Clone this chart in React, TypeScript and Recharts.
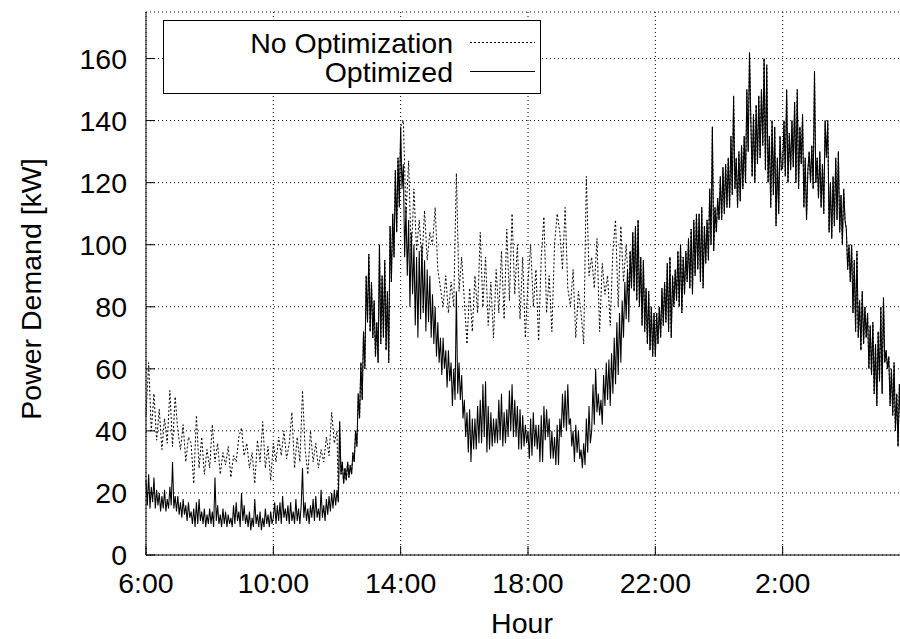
import React from 'react';
import { LineChart, Line, XAxis, YAxis, CartesianGrid, Legend } from 'recharts';

// time axis: hours after 6:00
const optStepMinutes = 2.5;   // optimized samples
const noOptStepMinutes = 5;   // no-optimization samples
const hourTicks = [0, 4, 8, 12, 16, 20];
const hourTickLabels = ['6:00', '10:00', '14:00', '18:00', '22:00', '2:00'];
const powerTicks = [0, 20, 40, 60, 80, 100, 120, 140, 160];

const seriesNames = { noopt: 'No Optimization', opt: 'Optimized' };

// Optimized power demand [kW], 6:00 -> 6:00 (next day), every 2.5 min (24 per hour)
const optimized = [
  24, 16, 26, 15, 22, 17, 25, 15, 21, 16, 20, 14, 19, 15, 21, 14, 18, 15, 22, 16, 30, 15, 19, 14,
  19, 13, 17, 12, 18, 13, 16, 11, 17, 12, 14, 10, 15, 9, 17, 10, 18, 11, 14, 10, 15, 9, 13, 10,
  15, 10, 14, 9, 25, 11, 16, 10, 13, 9, 15, 10, 14, 9, 13, 10, 12, 9, 16, 10, 17, 11, 14, 9,
  20, 11, 16, 10, 13, 9, 14, 8, 12, 9, 18, 10, 13, 9, 14, 8, 12, 9, 15, 10, 13, 9, 14, 10,
  12, 17, 10, 16, 11, 17, 10, 19, 12, 15, 11, 16, 10, 17, 11, 14, 10, 18, 11, 15, 10, 16, 28, 12,
  17, 11, 15, 10, 16, 12, 18, 11, 19, 12, 15, 11, 21, 12, 16, 11, 18, 13, 19, 14, 20, 15, 21, 16,
  21, 17, 43, 26, 30, 23, 28, 24, 30, 25, 29, 26, 33, 30, 40, 35, 52, 44, 62, 50, 72, 60, 90, 75,
  97, 72, 88, 70, 82, 64, 75, 62, 100, 68, 90, 70, 95, 66, 85, 62, 106, 88, 110, 96, 124, 104, 128, 112,
  138, 118, 126, 96, 112, 90, 108, 80, 104, 84, 100, 74, 96, 70, 98, 76, 100, 78, 95, 72, 92, 75, 90, 70,
  84, 68, 80, 64, 75, 62, 70, 58, 70, 60, 66, 54, 66, 56, 62, 48, 60, 50, 85, 52, 62, 50, 58, 44,
  50, 38, 46, 33, 47, 30, 44, 34, 44, 34, 48, 36, 50, 36, 55, 38, 56, 33, 48, 34, 46, 35, 44, 36,
  44, 36, 50, 37, 52, 35, 46, 36, 47, 38, 53, 40, 55, 38, 50, 38, 48, 34, 47, 34, 45, 35, 42, 36,
  40, 31, 44, 32, 46, 35, 42, 34, 42, 30, 45, 30, 48, 37, 47, 38, 44, 31, 40, 31, 38, 29, 42, 29,
  44, 38, 52, 41, 53, 40, 55, 42, 44, 35, 40, 30, 42, 33, 40, 31, 34, 28, 36, 29, 44, 33, 48, 36,
  40, 55, 42, 60, 46, 52, 45, 50, 42, 58, 48, 62, 50, 63, 48, 65, 52, 70, 55, 75, 58, 78, 62, 82,
  70, 88, 76, 92, 75, 98, 86, 104, 85, 106, 82, 108, 80, 96, 74, 95, 72, 86, 68, 85, 66, 80, 64, 78,
  64, 78, 68, 80, 70, 86, 74, 88, 75, 94, 72, 96, 70, 90, 80, 92, 82, 98, 80, 100, 78, 96, 84, 98,
  88, 102, 86, 105, 84, 108, 90, 110, 92, 110, 88, 112, 86, 106, 94, 108, 95, 118, 100, 138, 98, 112, 104, 115,
  108, 122, 108, 125, 110, 126, 112, 128, 112, 135, 116, 148, 118, 128, 112, 130, 114, 132, 118, 135, 120, 150, 130, 162,
  140, 122, 142, 120, 145, 126, 148, 128, 150, 132, 160, 124, 158, 120, 135, 112, 140, 116, 138, 106, 128, 110, 135, 124,
  125, 140, 122, 150, 120, 136, 124, 140, 125, 146, 120, 150, 118, 138, 126, 142, 112, 128, 108, 124, 130, 120, 132, 118,
  156, 120, 128, 115, 130, 112, 126, 110, 140, 128, 140, 104, 120, 102, 122, 106, 128, 108, 130, 104, 116, 100, 118, 108,
  105, 92, 100, 88, 100, 78, 95, 72, 98, 70, 82, 66, 85, 68, 80, 70, 78, 60, 74, 58, 75, 52, 68, 48,
  72, 56, 80, 52, 83, 62, 66, 60, 64, 48, 60, 45, 62, 40, 52, 35, 55, 42, 50, 40, 50, 44, 45, 43,
  42,
];

// No Optimization, 6:00 -> 12:00, every 5 min (differs from optimized)
const noOptMorning = [
  45, 62, 40, 52, 37, 47, 34, 44, 36, 53, 35, 51,
  40, 34, 42, 30, 38, 36, 23, 45, 28, 38, 26, 34,
  28, 42, 30, 36, 26, 33, 29, 35, 25, 32, 30, 38,
  41, 32, 36, 28, 33, 23, 37, 30, 43, 28, 35, 24,
  36, 30, 38, 32, 40, 31, 36, 46, 28, 38, 30, 53,
  34, 26, 40, 30, 36, 28, 34, 30, 38, 32, 46, 36,
  40,
];

// No Optimization, 14:00 -> 21:10, every 5 min (differs from optimized)
const noOptAfternoonStartHour = 8; // 14:00
const noOptAfternoon = [
  138, 140, 110, 127, 96, 118, 98, 108, 94, 111, 95, 104,
  100, 112, 92, 86, 80, 90, 78, 88, 80, 123, 85, 96,
  82, 68, 86, 72, 90, 78, 104, 80, 96, 74, 88, 70,
  92, 78, 98, 76, 105, 82, 110, 84, 100, 76, 96, 70,
  88, 100, 80, 92, 69, 96, 109, 78, 90, 72, 100, 110,
  104, 92, 112, 86, 80, 92, 70, 85, 78, 68, 122, 90,
  96, 86, 102, 72, 94, 84, 90, 74, 98, 108, 80, 106,
  88, 100, 85,
];

const optPerHour = 60 / optStepMinutes;
const ratio = noOptStepMinutes / optStepMinutes;
const morningEnd = (noOptMorning.length - 1) * ratio; // last row index inside morning window
const aftStart = noOptAfternoonStartHour * optPerHour;
const aftEnd = aftStart + (noOptAfternoon.length - 1) * ratio;

const data = optimized.map((v, i) => {
  let n: number | null = v; // outside the listed windows both runs coincide
  if (i <= morningEnd) {
    n = i % ratio === 0 ? noOptMorning[i / ratio] : null;
  } else if (i >= aftStart && i <= aftEnd) {
    const k = i - aftStart;
    n = k % ratio === 0 ? noOptAfternoon[k / ratio] : null;
  }
  return { t: i / optPerHour, opt: v, noopt: n };
});

const FONT = '"Liberation Sans", Arial, Helvetica, sans-serif';
const FS = 28.5;

const lineStyles: Record<string, { dash?: string; width: number }> = {
  noopt: { dash: '2 2', width: 1 },
  opt: { width: 1 },
};

const LegendBox = (props: any) => {
  const payload = props.payload || [];
  return (
    <svg width={378} height={74} style={{ display: 'block', overflow: 'visible' }}>
      <rect x={0.5} y={0.5} width={377} height={73} fill="#fff" stroke="#000" strokeWidth={1} />
      {payload.map((entry: any, idx: number) => {
        const st = lineStyles[entry.dataKey] || { width: 1 };
        const base = 32.5 + idx * 29;
        const ly = 22.5 + idx * 29;
        return (
          <g key={String(entry.dataKey)}>
            <text x={290} y={base} textAnchor="end" fontFamily={FONT} fontSize={FS} fill="#000">
              {entry.value}
            </text>
            <line x1={307} x2={372} y1={ly} y2={ly} stroke="#000" strokeWidth={st.width} strokeDasharray={st.dash} />
          </g>
        );
      })}
    </svg>
  );
};

const HourLabel = () => (
  <text x={522} y={633} textAnchor="middle" fontFamily={FONT} fontSize={FS} fill="#000">Hour</text>
);

const PowerLabel = () => (
  <text x={0} y={0} transform="translate(41,289) rotate(-90)" textAnchor="middle" fontFamily={FONT} fontSize={FS} fill="#000">
    Power Demand [kW]
  </text>
);

export default function App() {
  return (
    <div style={{ position: 'absolute', left: 0, top: 0, width: 900, height: 639, overflow: 'hidden', background: '#fff' }}>
      <LineChart
        width={930}
        height={639}
        data={data}
        margin={{ top: 12, right: 20, left: 0, bottom: 0 }}
        style={{ fontFamily: FONT }}
      >
        <CartesianGrid stroke="#000" strokeWidth={1} strokeDasharray="1 3" />
        <XAxis
          dataKey="t"
          type="number"
          domain={[0, 24]}
          ticks={hourTicks}
          interval={0}
          tickFormatter={(v: number) => hourTickLabels[hourTicks.indexOf(v)] ?? ''}
          height={84}
          tickSize={-9}
          tickMargin={27}
          axisLine={{ stroke: '#000', strokeWidth: 1 }}
          tickLine={{ stroke: '#000', strokeWidth: 1 }}
          tick={{ fontSize: FS, fill: '#000', fontFamily: FONT }}
          label={<HourLabel />}
        />
        <XAxis
          xAxisId="top"
          orientation="top"
          type="number"
          domain={[0, 24]}
          ticks={hourTicks}
          interval={0}
          height={0}
          tickSize={-9}
          tick={false}
          axisLine={{ stroke: '#000', strokeWidth: 1 }}
          tickLine={{ stroke: '#000', strokeWidth: 1 }}
        />
        <YAxis
          type="number"
          domain={[0, 175]}
          ticks={powerTicks}
          interval={0}
          width={146}
          tickSize={-9}
          tickMargin={28}
          axisLine={{ stroke: '#000', strokeWidth: 1 }}
          tickLine={{ stroke: '#000', strokeWidth: 1 }}
          tick={{ fontSize: FS, fill: '#000', fontFamily: FONT }}
          label={<PowerLabel />}
        />
        <Legend
          layout="horizontal"
          verticalAlign="middle"
          align="center"
          content={<LegendBox />}
          wrapperStyle={{ left: 163, top: 20, width: 378, height: 74 }}
        />
        <Line
          type="linear"
          dataKey="noopt"
          name={seriesNames.noopt}
          stroke="#000"
          strokeWidth={1}
          strokeDasharray="2 2"
          connectNulls
          dot={false}
          activeDot={false}
          isAnimationActive={false}
        />
        <Line
          type="linear"
          dataKey="opt"
          name={seriesNames.opt}
          stroke="#000"
          strokeWidth={1.05}
          dot={false}
          activeDot={false}
          isAnimationActive={false}
        />
      </LineChart>
    </div>
  );
}
